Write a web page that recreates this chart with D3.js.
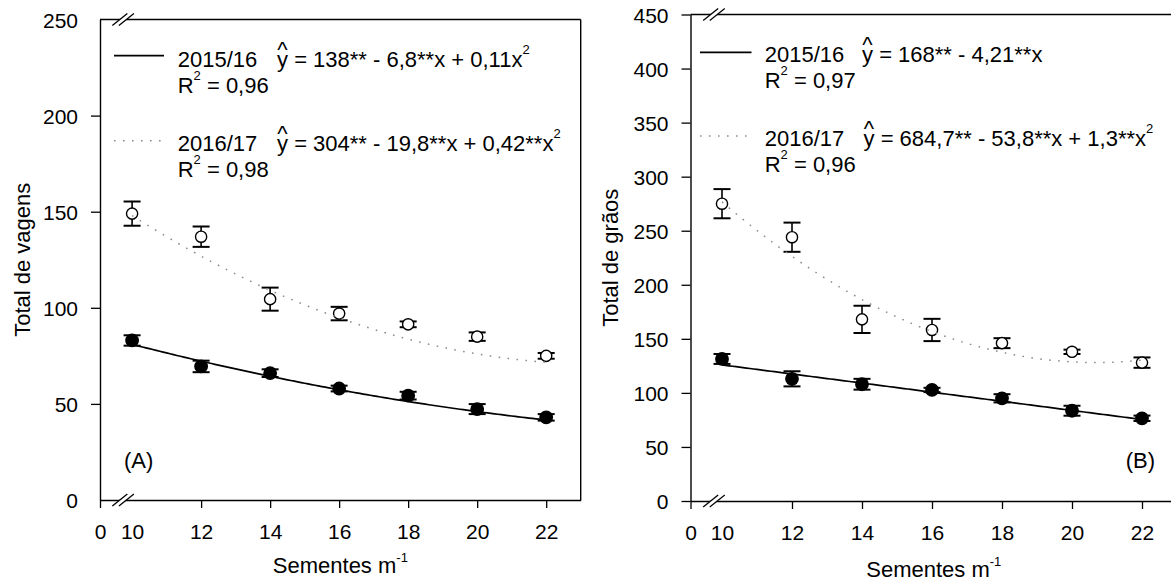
<!DOCTYPE html>
<html>
<head>
<meta charset="utf-8">
<script src="https://cdn.jsdelivr.net/npm/d3@7"></script>
<style>
  html, body { margin: 0; padding: 0; background: #fff; }
  svg { display: block; }
  text { white-space: pre; }
</style>
</head>
<body>
<script>
// Seed density on the x axis (seeds per metre)
const seeds = [10, 12, 14, 16, 18, 20, 22];
const xTickValues = [0, 10, 12, 14, 16, 18, 20, 22];

// (A) Total de vagens — means and standard errors per season
const pods1516 = [83, 69.5, 66, 58, 54.3, 47.3, 43];
const pods1516Err = [2.7, 3, 2, 1.5, 2, 2.6, 1.7];
const pods1617 = [149, 137, 104.5, 97, 91.4, 85, 75];
const pods1617Err = [6.3, 5.3, 6, 3.5, 1.5, 2.2, 1.5];
const podsYTicks = [0, 50, 100, 150, 200, 250];
// Regression coefficients [b0, b1, b2] from the legend equations
const podsFit1516 = [138, -6.8, 0.11];
const podsFit1617 = [304, -19.8, 0.42];

// (B) Total de grãos — means and standard errors per season
const grains1516 = [131.4, 113, 108, 102.7, 95, 83.5, 76.5];
const grains1516Err = [4.6, 7, 5, 2, 3.8, 4.6, 2.5];
const grains1617 = [275, 244, 168, 158.2, 146, 138, 128];
const grains1617Err = [13.5, 13.5, 12.6, 10.3, 4.6, 2, 4.8];
const grainsYTicks = [0, 50, 100, 150, 200, 250, 300, 350, 400, 450];
const grainsFit1516 = [168, -4.21, 0];
const grainsFit1617 = [684.7, -53.8, 1.3];

// Legend texts
const seasonLabels = ["2015/16", "2016/17"];
const podsEquations = [
  [" = 138** - 6,8**x + 0,11x", {sup: "2"}],
  [" = 304** - 19,8**x + 0,42**x", {sup: "2"}]
];
const podsR2 = ["0,96", "0,98"];
const grainsEquations = [
  [" = 168** - 4,21**x"],
  [" = 684,7** - 53,8**x + 1,3**x", {sup: "2"}]
];
const grainsR2 = ["0,97", "0,96"];

const W = 1171, H = 583;
const FONT = "'Liberation Sans', Arial, Helvetica, sans-serif";
const DOTTED = "1.6 7.4";

const svg = d3.select("body").append("svg")
  .attr("width", W).attr("height", H)
  .attr("viewBox", `0 0 ${W} ${H}`)
  .style("font-family", FONT);

svg.append("rect").attr("width", W).attr("height", H).attr("fill", "#fff");

// Text with raised parts: strings are plain, {sup} objects are superscripts,
// {hat} places a circumflex over the preceding glyph
function richText(g, x, y, parts, size, anchor) {
  const t = g.append("text")
    .attr("x", x).attr("y", y)
    .attr("font-size", size)
    .attr("fill", "#000")
    .attr("text-anchor", anchor || "start");
  let raised = 0, back = 0;
  parts.forEach(part => {
    if (typeof part === "string") {
      t.append("tspan").attr("dy", raised).attr("dx", back).text(part);
      raised = 0; back = 0;
    } else if (part.hat) {
      // circumflex centred over the previous glyph
      t.append("tspan").attr("dx", part.dx).attr("dy", -part.lift)
        .attr("font-size", part.size).text("^");
      raised = part.lift; back = part.back;
    } else {
      const lift = part.lift || 13;
      t.append("tspan").attr("dy", -lift).attr("font-size", part.size || 13).text(part.sup);
      raised = lift; back = 0;
    }
  });
  return t;
}

function poly(c, v) { return c[0] + c[1] * v + c[2] * v * v; }

function drawPanel(p) {
  const g = svg.append("g");
  const x = d3.scaleLinear()
    .domain([0, p.xMin, p.xMax])
    .range([p.left, p.left, p.right]);
  const y = d3.scaleLinear().domain([0, p.yMax]).range([p.bottom, p.top]);

  const plot = g.append("g");

  // error bars
  const series = [
    {mean: p.s1, err: p.e1, filled: true},
    {mean: p.s2, err: p.e2, filled: false}
  ];
  series.forEach(s => {
    const eb = plot.append("g").attr("stroke", "#000");
    seeds.forEach((sx, i) => {
      const cx = x(sx);
      const yHi = y(s.mean[i] + s.err[i]);
      const yLo = y(s.mean[i] - s.err[i]);
      eb.append("line").attr("x1", cx).attr("x2", cx).attr("y1", yHi).attr("y2", yLo)
        .attr("stroke-width", 1.6);
      [yHi, yLo].forEach(yy => eb.append("line")
        .attr("x1", cx - 8.5).attr("x2", cx + 8.5).attr("y1", yy).attr("y2", yy)
        .attr("stroke-width", 2));
    });
  });

  // symbols
  series.forEach(s => {
    plot.append("g").selectAll("circle").data(seeds).join("circle")
      .attr("cx", d => x(d))
      .attr("cy", (d, i) => y(s.mean[i]))
      .attr("r", s.filled ? 6.2 : 5.6)
      .attr("fill", s.filled ? "#000" : "#fff")
      .attr("stroke", "#000")
      .attr("stroke-width", 1.4);
  });

  // fitted curves from the legend equations
  const xs = d3.range(seeds[0], seeds[seeds.length - 1] + 0.001, 0.1);
  const line = c => d3.line().x(v => x(v)).y(v => y(poly(c, v)))(xs);
  plot.append("path").attr("d", line(p.fit1))
    .attr("fill", "none").attr("stroke", "#000").attr("stroke-width", 1.7);
  plot.append("path").attr("d", line(p.fit2))
    .attr("fill", "none").attr("stroke", "#8c8c8c").attr("stroke-width", 1.5)
    .attr("stroke-dasharray", DOTTED);

  // axes
  const ax = g.append("g").attr("transform", `translate(0,${p.bottom})`)
    .call(d3.axisBottom(x).tickValues(xTickValues).tickSize(8).tickSizeOuter(0));
  ax.selectAll(".tick text").attr("y", 38.5).attr("dy", 0)
    .attr("font-size", 21).attr("font-family", FONT).attr("fill", "#000");
  ax.selectAll(".tick").filter(d => d === 10).select("line").remove();

  const ay = g.append("g").attr("transform", `translate(${p.left},0)`)
    .call(d3.axisLeft(y).tickValues(p.yTicks).tickSize(9).tickSizeOuter(0));
  ay.selectAll(".tick text").attr("x", -22).attr("dy", "0.36em")
    .attr("font-size", 21).attr("font-family", FONT).attr("fill", "#000");
  ay.selectAll(".tick").filter(d => p.hideYTicks.includes(d)).select("line").remove();

  [ax, ay].forEach(a => {
    a.select(".domain").attr("stroke", "#000").attr("stroke-width", 1.4);
    a.selectAll(".tick line").attr("stroke", "#000").attr("stroke-width", 1.3);
  });

  // frame: top and right edges (the right one may fall past the page edge)
  const frame = g.append("g")
    .attr("stroke", "#000").attr("stroke-width", 1.4).attr("fill", "none");
  frame.append("line").attr("x1", p.left).attr("x2", p.right)
    .attr("y1", p.top).attr("y2", p.top);
  frame.append("line").attr("x1", p.right).attr("x2", p.right)
    .attr("y1", p.top).attr("y2", p.bottom);

  // axis break marks on bottom axis and top edge
  [p.bottom, p.top].forEach(yy => {
    const bx = x(p.breakAt);
    const bg = g.append("g");
    bg.append("path")
      .attr("d", `M${bx - 10.8},${yy + 6}L${bx + 4.2},${yy - 6}L${bx + 10.8},${yy - 6}L${bx - 4.2},${yy + 6}Z`)
      .attr("fill", "#fff");
    [-3.3, 3.3].forEach(o => bg.append("line")
      .attr("x1", bx + o - 7.5).attr("y1", yy + 6)
      .attr("x2", bx + o + 7.5).attr("y2", yy - 6)
      .attr("stroke", "#000").attr("stroke-width", 1.3));
  });

  // legend
  const lg = g.append("g");
  const hat = {hat: true, size: 22, dx: -10.8, lift: 9.5, back: 0.5};
  p.legend.forEach((L, k) => {
    lg.append("line").attr("x1", L.lx0).attr("x2", L.lx1).attr("y1", L.ly).attr("y2", L.ly)
      .attr("stroke", k === 0 ? "#000" : "#8c8c8c")
      .attr("stroke-width", k === 0 ? 1.7 : 1.5)
      .attr("stroke-dasharray", k === 0 ? null : DOTTED);
    richText(lg, L.tx, L.base, [seasonLabels[k]], 22);
    richText(lg, L.ex, L.base, ["y", hat].concat(p.equations[k]), 22);
    richText(lg, L.tx, L.base + 26.5, ["R", {sup: "2"}, " = " + p.r2[k]], 22);
  });

  // panel tag
  g.append("text").attr("x", p.tag.x).attr("y", p.tag.y)
    .attr("text-anchor", p.tag.anchor).attr("font-size", 22).text(p.tag.text);

  // axis titles
  richText(g, (p.left + p.right) / 2, p.xTitleY,
    ["Sementes m", {sup: "-1", size: 13, lift: 11}], 22, "middle");
  g.append("text")
    .attr("transform", `translate(${p.yTitleX},${(p.top + p.bottom) / 2}) rotate(-90)`)
    .attr("text-anchor", "middle").attr("font-size", 22).text(p.yTitle);
}

drawPanel({
  left: 100, right: 580.7, top: 19.5, bottom: 500,
  xMin: 9.07, xMax: 23, breakAt: 9.74,
  yMax: 250, yTicks: podsYTicks, hideYTicks: [0, 250],
  s1: pods1516, e1: pods1516Err, s2: pods1617, e2: pods1617Err,
  fit1: podsFit1516, fit2: podsFit1617,
  equations: podsEquations, r2: podsR2,
  legend: [
    {lx0: 114, lx1: 164, ly: 55.7, tx: 177.7, ex: 277, base: 66.7},
    {lx0: 114, lx1: 164, ly: 140.7, tx: 177.7, ex: 277, base: 150.7}
  ],
  tag: {text: "(A)", x: 124, y: 468, anchor: "start"},
  xTitleY: 573, yTitleX: 29.6, yTitle: "Total de vagens"
});

drawPanel({
  left: 690.5, right: 1177, top: 14.5, bottom: 501,
  xMin: 9.1, xMax: 23, breakAt: 9.77,
  yMax: 450, yTicks: grainsYTicks, hideYTicks: [],
  s1: grains1516, e1: grains1516Err, s2: grains1617, e2: grains1617Err,
  fit1: grainsFit1516, fit2: grainsFit1617,
  equations: grainsEquations, r2: grainsR2,
  legend: [
    {lx0: 700, lx1: 751.5, ly: 52.3, tx: 764.7, ex: 862, base: 61.7},
    {lx0: 700, lx1: 751.5, ly: 136, tx: 764.7, ex: 863.5, base: 145.7}
  ],
  tag: {text: "(B)", x: 1155, y: 468, anchor: "end"},
  xTitleY: 577, yTitleX: 617.7, yTitle: "Total de grãos"
});
</script>
</body>
</html>
